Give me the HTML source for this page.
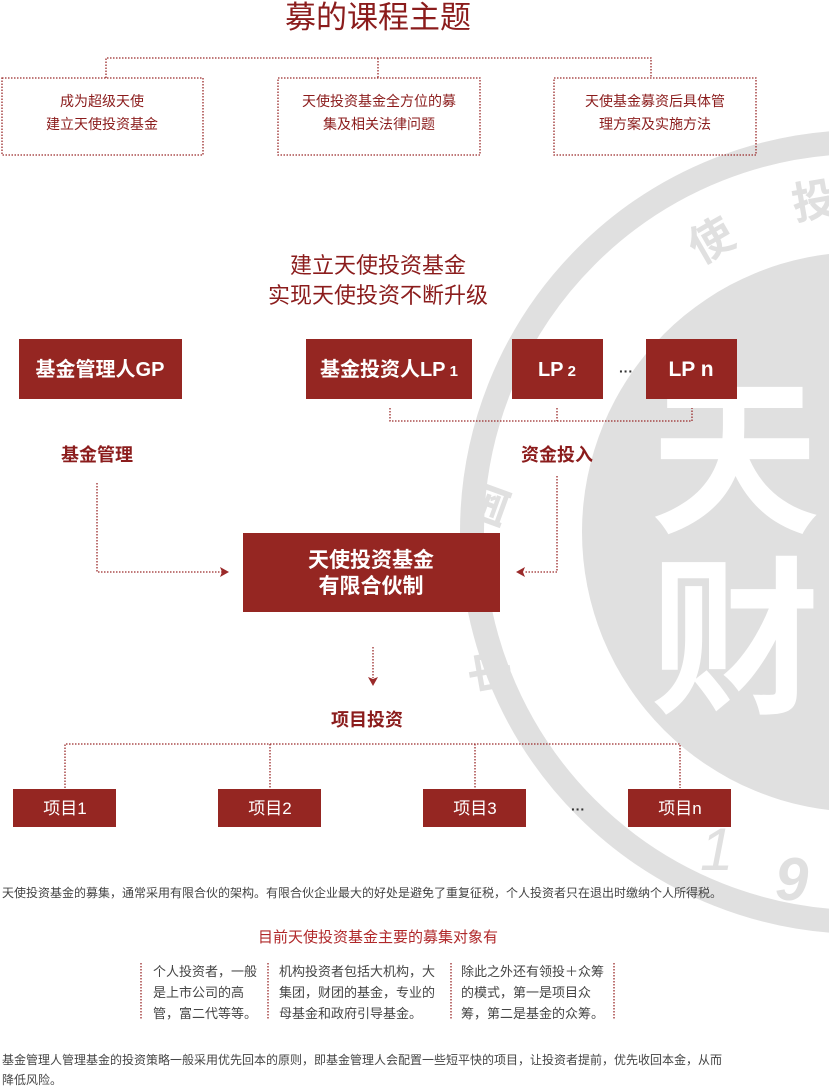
<!DOCTYPE html>
<html><head><meta charset="utf-8"><style>
html,body{margin:0;padding:0;background:#fff;}
svg{display:block;}
text{font-family:"Liberation Sans","Noto Sans CJK SC",sans-serif;}
</style></head><body>
<svg width="829" height="1087" viewBox="0 0 829 1087" xmlns="http://www.w3.org/2000/svg">
<!-- watermark -->
<circle cx="862" cy="532" r="390" fill="none" stroke="#e0e0e0" stroke-width="24"/>
<circle cx="862" cy="532" r="280" fill="#e0e0e0"/>
<text x="0" y="0" font-size="44" fill="#e0e0e0" font-weight="bold" transform="translate(700,265) rotate(-30)">使</text>
<text x="0" y="0" font-size="44" fill="#e0e0e0" font-weight="bold" transform="translate(795,220) rotate(-10)">投</text>
<text x="0" y="0" font-size="44" fill="#e0e0e0" font-weight="bold" transform="translate(495,530) rotate(-70)">国</text>
<text x="0" y="0" font-size="44" fill="#e0e0e0" font-weight="bold" transform="translate(510,690) rotate(-100)">中</text>
<text x="650" y="520" font-size="170" fill="#fff" font-weight="bold">天</text>
<text x="650" y="700" font-size="170" fill="#fff" font-weight="bold">财</text>
<text x="700" y="870" font-size="60" fill="#e0e0e0" font-style="italic" font-family="Liberation Serif,serif">1</text>
<text x="775" y="900" font-size="60" fill="#e0e0e0" font-style="italic" font-weight="bold" font-family="Liberation Serif,serif">9</text>

<g fill="none" stroke="#9a2a2a" stroke-width="1.3" stroke-dasharray="1.5,1.5">
<path d="M106,78 V58 H651 V78 M378,58 V78"/>
<rect x="2" y="78" width="201" height="77"/>
<rect x="278" y="78" width="202" height="77"/>
<rect x="554" y="78" width="202" height="77"/>
<path d="M390,408 V421 H692 V408 M557,408 V421"/>
<path d="M97,483 V572 H222"/>
<path d="M557,476 V572 H524"/>
<path d="M373,647 V678"/>
<path d="M65,788 V744 H680 V788 M270,744 V788 M475,744 V788"/>
<path d="M141,963 V1020 M268,963 V1020 M451,963 V1020 M614,963 V1020"/>
</g>
<g fill="#9a2a2a">
<path d="M229,572 L220,567 L222,572 L220,577 Z"/>
<path d="M516,572 L525,567 L523,572 L525,577 Z"/>
<path d="M373,686 L368,677 L373,679 L378,677 Z"/>
</g>

<text x="378" y="28" font-size="31" fill="#8b1c1c" text-anchor="middle">募的课程主题</text>
<g font-size="14" fill="#8b1c1c" text-anchor="middle">
<text x="102" y="106">成为超级天使</text>
<text x="102" y="129">建立天使投资基金</text>
<text x="379" y="106">天使投资基金全方位的募</text>
<text x="379" y="129">集及相关法律问题</text>
<text x="655" y="106">天使基金募资后具体管</text>
<text x="655" y="129">理方案及实施方法</text>
</g>
<g font-size="22" fill="#8b1c1c" text-anchor="middle">
<text x="378" y="273">建立天使投资基金</text>
<text x="378" y="303">实现天使投资不断升级</text>
</g>

<g fill="#952622">
<rect x="19" y="339" width="163" height="60"/>
<rect x="306" y="339" width="166" height="60"/>
<rect x="512" y="339" width="91" height="60"/>
<rect x="646" y="339" width="91" height="60"/>
<rect x="243" y="533" width="257" height="79"/>
<rect x="13" y="789" width="103" height="38"/>
<rect x="218" y="789" width="103" height="38"/>
<rect x="423" y="789" width="103" height="38"/>
<rect x="628" y="789" width="103" height="38"/>
</g>
<g font-size="20" fill="#fff" text-anchor="middle" font-weight="bold">
<text x="100" y="376">基金管理人GP</text>
<text x="389" y="376">基金投资人LP<tspan font-size="15"> 1</tspan></text>
<text x="557" y="376">LP<tspan font-size="15"> 2</tspan></text>
<text x="691" y="376" font-size="21">LP n</text>
</g>
<text x="626" y="376" font-size="14" fill="#333" text-anchor="middle" font-weight="bold">···</text>
<g font-size="18" font-weight="bold" fill="#8b1c1c" text-anchor="middle">
<text x="97" y="461">基金管理</text>
<text x="557" y="461">资金投入</text>
<text x="367" y="726">项目投资</text>
</g>
<g font-size="21" font-weight="bold" fill="#fff" text-anchor="middle">
<text x="371" y="567">天使投资基金</text>
<text x="371" y="593">有限合伙制</text>
</g>
<g font-size="17" fill="#fff" text-anchor="middle">
<text x="65" y="814">项目1</text>
<text x="270" y="814">项目2</text>
<text x="475" y="814">项目3</text>
<text x="680" y="814">项目n</text>
</g>
<text x="578" y="814" font-size="14" fill="#333" text-anchor="middle" font-weight="bold">···</text>

<text x="2" y="897" font-size="12" fill="#444">天使投资基金的募集，通常采用有限合伙的架构。有限合伙企业最大的好处是避免了重复征税，个人投资者只在退出时缴纳个人所得税。</text>
<text x="378" y="942" font-size="15" fill="#b0282a" text-anchor="middle">目前天使投资基金主要的募集对象有</text>
<g font-size="13" fill="#444">
<text x="153" y="976">个人投资者，一般</text>
<text x="153" y="997">是上市公司的高</text>
<text x="153" y="1018">管，富二代等等。</text>
<text x="279" y="976">机构投资者包括大机构，大</text>
<text x="279" y="997">集团，财团的基金，专业的</text>
<text x="279" y="1018">母基金和政府引导基金。</text>
<text x="461" y="976">除此之外还有领投＋众筹</text>
<text x="461" y="997">的模式，第一是项目众</text>
<text x="461" y="1018">筹，第二是基金的众筹。</text>
</g>
<g font-size="12" fill="#444">
<text x="2" y="1064">基金管理人管理基金的投资策略一般采用优先回本的原则，即基金管理人会配置一些短平快的项目，让投资者提前，优先收回本金，从而</text>
<text x="2" y="1084">降低风险。</text>
</g>
</svg>
</body></html>
